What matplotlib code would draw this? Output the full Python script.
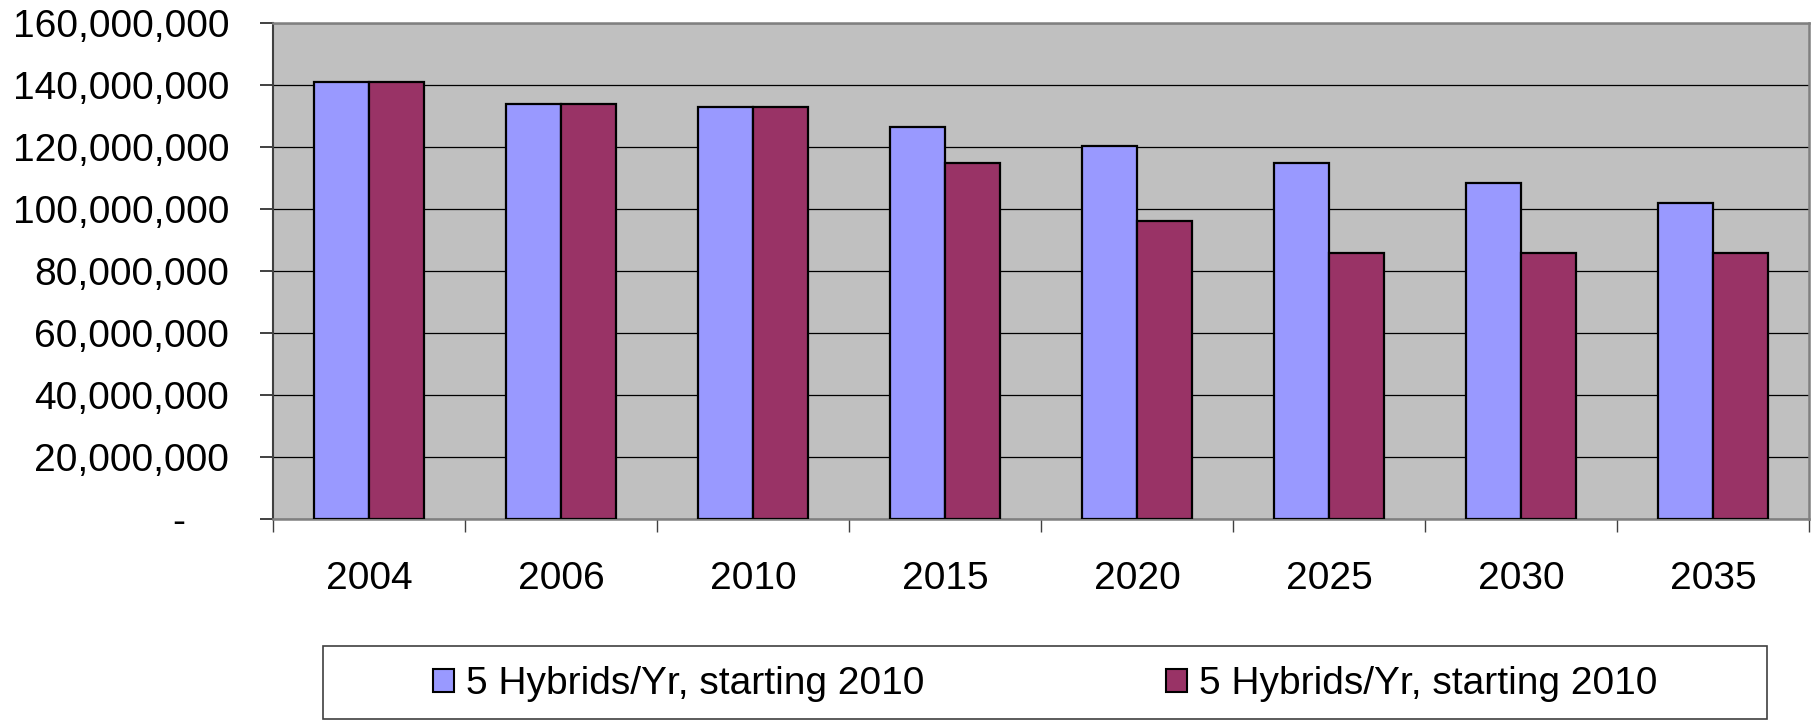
import numpy as np
import matplotlib
matplotlib.use('Agg')
import matplotlib.pyplot as plt
from matplotlib.patches import Rectangle, Patch
from matplotlib.ticker import FuncFormatter

plt.rcParams['font.family'] = ['Liberation Sans', 'DejaVu Sans']

years = ['2004', '2006', '2010', '2015', '2020', '2025', '2030', '2035']
series_a = [140.8e6, 133.7e6, 132.9e6, 126.4e6, 120.2e6, 114.6e6, 108.2e6, 101.7e6]
series_b = [140.8e6, 133.7e6, 132.9e6, 114.6e6, 96.1e6, 85.6e6, 85.6e6, 85.6e6]
labels = ['5 Hybrids/Yr, starting 2010', '5 Hybrids/Yr, starting 2010']
colors = ['#9999FF', '#993366']


def fmt(v, pos):
    if v == 0:
        return '-    '
    return '{:,.0f}'.format(v)


fig = plt.figure(figsize=(18.14, 7.2), dpi=100)
ax = fig.add_axes([0.1505, 0.2792, 0.9972 - 0.1505, 0.96875 - 0.2792])
ax.set_facecolor('#C0C0C0')

x = np.arange(len(years)) + 0.5
w = 0.286
ax.bar(x - w / 2, series_a, w, color=colors[0], edgecolor='black', linewidth=1.6, zorder=3)
ax.bar(x + w / 2, series_b, w, color=colors[1], edgecolor='black', linewidth=1.6, zorder=3)

ax.set_xlim(0, len(years))
ax.set_ylim(0, 160e6)
ax.set_yticks(np.arange(0, 160e6 + 1, 20e6))
ax.yaxis.set_major_formatter(FuncFormatter(fmt))
ax.yaxis.grid(True, color='black', linewidth=0.9, zorder=1)
ax.set_axisbelow(True)

# ticks at category boundaries, labels at centres
ax.set_xticks(np.arange(len(years) + 1))
ax.set_xticklabels([])
ax.set_xticks(x, minor=True)
ax.set_xticklabels(years, minor=True)
ax.tick_params(axis='x', which='major', length=9, width=1, color='#404040', direction='out')
ax.tick_params(axis='x', which='minor', length=0, pad=30, labelsize=28)
ax.tick_params(axis='y', length=9.5, width=1.2, color='#202020', pad=22, labelsize=28)

ax.spines['left'].set_color('#404040')
ax.spines['left'].set_linewidth(1.5)
for s in ['top', 'right', 'bottom']:
    ax.spines[s].set_color('#808080')
    ax.spines[s].set_linewidth(1.8)

# legend box
box = Rectangle((323 / 1814, 0.002), (1767 - 323) / 1814, (719 - 646) / 720,
                transform=fig.transFigure, facecolor='white', edgecolor='#404040', linewidth=1.2)
fig.add_artist(box)
handles = [Patch(facecolor=c, edgecolor='black', linewidth=1.5) for c in colors]
fig.legend(handles, labels, loc='center', ncol=2, frameon=False,
           bbox_to_anchor=((323 + 1767) / 2 / 1814, (720 - 684) / 720),
           fontsize=28, handlelength=0.55, handleheight=0.55, handletextpad=0.3,
           columnspacing=6.2, borderpad=0)

fig.savefig('out.png', dpi=100)
